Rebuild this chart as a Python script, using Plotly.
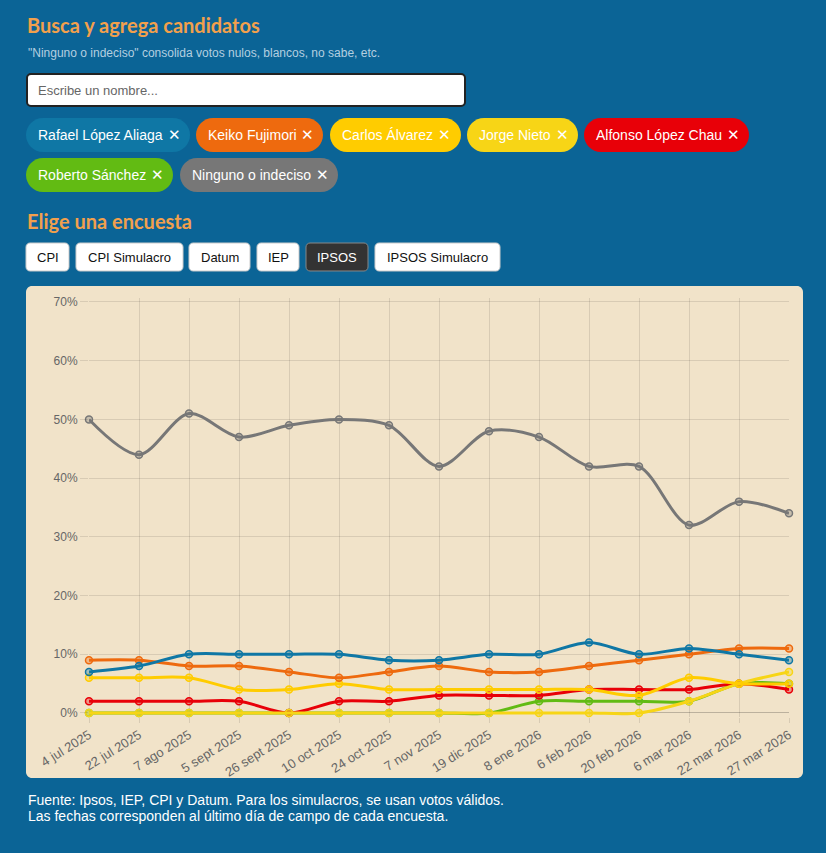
import plotly.graph_objects as go

# ---------------- data ----------------
fechas = ["4 jul 2025", "22 jul 2025", "7 ago 2025", "5 sept 2025", "26 sept 2025",
          "10 oct 2025", "24 oct 2025", "7 nov 2025", "19 dic 2025", "8 ene 2026",
          "6 feb 2026", "20 feb 2026", "6 mar 2026", "22 mar 2026", "27 mar 2026"]

rafael_lopez_aliaga = [7, 8, 10, 10, 10, 10, 9, 9, 10, 10, 12, 10, 11, 10, 9]
keiko_fujimori      = [9, 9, 8, 8, 7, 6, 7, 8, 7, 7, 8, 9, 10, 11, 11]
carlos_alvarez      = [6, 6, 6, 4, 4, 5, 4, 4, 4, 4, 4, 3, 6, 5, 5]
jorge_nieto         = [0, 0, 0, 0, 0, 0, 0, 0, 0, 0, 0, 0, 2, 5, 7]
alfonso_lopez_chau  = [2, 2, 2, 2, 0, 2, 2, 3, 3, 3, 4, 4, 4, 5, 4]
roberto_sanchez     = [0, 0, 0, 0, 0, 0, 0, 0, 0, 2, 2, 2, 2, 5, 5]
ninguno_indeciso    = [50, 44, 51, 47, 49, 50, 49, 42, 48, 47, 42, 42, 32, 36, 34]

candidatos = ["Rafael López Aliaga", "Keiko Fujimori", "Carlos Álvarez", "Jorge Nieto",
              "Alfonso López Chau", "Roberto Sánchez", "Ninguno o indeciso"]
series = [rafael_lopez_aliaga, keiko_fujimori, carlos_alvarez, jorge_nieto,
          alfonso_lopez_chau, roberto_sanchez, ninguno_indeciso]
colores = ["#0f77a5", "#ee6a0e", "#ffcc00", "#f7d516", "#e80008", "#62bb13", "#777777"]

encuestas = ["CPI", "CPI Simulacro", "Datum", "IEP", "IPSOS", "IPSOS Simulacro"]
encuesta_activa = "IPSOS"

y_ticks = [0, 10, 20, 30, 40, 50, 60, 70]
y_ticklabels = [f"{v}%" for v in y_ticks]

# ---------------- layout helpers ----------------
W, H = 826, 853
BG = "#0b6496"
PANEL = "#f1e3c9"
ORANGE_TITLE = "#f2a04c"


def px(x):
    return x / W


def py(y):
    return 1 - y / H


def rrect(x0, y0, x1, y1, r):
    k = 0.5523 * r
    pts = [
        ("M", [(x0 + r, y0)]),
        ("L", [(x1 - r, y0)]),
        ("C", [(x1 - r + k, y0), (x1, y0 + r - k), (x1, y0 + r)]),
        ("L", [(x1, y1 - r)]),
        ("C", [(x1, y1 - r + k), (x1 - r + k, y1), (x1 - r, y1)]),
        ("L", [(x0 + r, y1)]),
        ("C", [(x0 + r - k, y1), (x0, y1 - r + k), (x0, y1 - r)]),
        ("L", [(x0, y0 + r)]),
        ("C", [(x0, y0 + r - k), (x0 + r - k, y0), (x0 + r, y0)]),
    ]
    s = ""
    for cmd, ps in pts:
        s += cmd + " " + " ".join(f"{px(a):.6f},{py(b):.6f}" for a, b in ps) + " "
    return s + "Z"


def hex_rgba(h, a):
    h = h.lstrip("#")
    r, g, b = int(h[0:2], 16), int(h[2:4], 16), int(h[4:6], 16)
    return f"rgba({r},{g},{b},{a})"


shapes = []
annotations = []

# chart panel
shapes.append(dict(type="path", path=rrect(26, 286, 803, 778, 6), xref="paper", yref="paper",
                   fillcolor=PANEL, line=dict(width=0), layer="below"))

# titles / texts
SANS = "Liberation Sans, Arial, sans-serif"
annotations.append(dict(text="<b>Busca y agrega candidatos</b>", x=px(25), y=py(25), xref="paper", yref="paper",
                        xanchor="left", yanchor="middle", showarrow=False,
                        font=dict(family="Lato, sans-serif", size=20, color=ORANGE_TITLE)))
annotations.append(dict(text="\"Ninguno o indeciso\" consolida votos nulos, blancos, no sabe, etc.",
                        x=px(26), y=py(53), xref="paper", yref="paper", xanchor="left", yanchor="middle",
                        showarrow=False, font=dict(family=SANS, size=12, color="#b4cfe0")))

# input box
shapes.append(dict(type="path", path=rrect(27, 74, 465, 106, 4), xref="paper", yref="paper",
                   fillcolor="white", line=dict(color="#222222", width=2), layer="below"))
annotations.append(dict(text="Escribe un nombre...", x=px(36), y=py(90), xref="paper", yref="paper",
                        xanchor="left", yanchor="middle", showarrow=False,
                        font=dict(family=SANS, size=13, color="#666666")))

# chips (layout boxes: left, right, row-center)
chip_boxes = [(26, 190, 135), (196, 323, 135), (330, 461, 135), (467, 578, 135),
              (584, 749, 135), (26, 173, 175), (180, 338, 175)]
for name, col, (cx0, cx1, cy) in zip(candidatos, colores, chip_boxes):
    shapes.append(dict(type="path", path=rrect(cx0, cy - 17, cx1, cy + 17, 17), xref="paper", yref="paper",
                       fillcolor=col, line=dict(width=0), layer="below"))
    annotations.append(dict(text=name, x=px(cx0 + 10), y=py(cy), xref="paper", yref="paper",
                            xanchor="left", yanchor="middle", showarrow=False,
                            font=dict(family=SANS, size=14, color="white")))
    annotations.append(dict(text="<b>✕</b>", x=px(cx1 - 16), y=py(cy), xref="paper", yref="paper",
                            xanchor="center", yanchor="middle", showarrow=False,
                            font=dict(family="DejaVu Sans", size=15, color="white")))

annotations.append(dict(text="<b>Elige una encuesta</b>", x=px(25), y=py(221), xref="paper", yref="paper",
                        xanchor="left", yanchor="middle", showarrow=False,
                        font=dict(family="Lato, sans-serif", size=20, color=ORANGE_TITLE)))

# survey buttons (layout boxes)
button_boxes = [(26, 69), (76, 183), (189, 250), (257, 299), (306, 368), (375, 500)]
for name, (bx0, bx1) in zip(encuestas, button_boxes):
    active = name == encuesta_activa
    shapes.append(dict(type="path", path=rrect(bx0, 243, bx1, 271, 4), xref="paper", yref="paper",
                       fillcolor="#333333" if active else "white",
                       line=dict(color="#888888" if active else "#cccccc", width=1), layer="below"))
    annotations.append(dict(text=name, x=px((bx0 + bx1) / 2), y=py(257), xref="paper", yref="paper",
                            xanchor="center", yanchor="middle", showarrow=False,
                            font=dict(family=SANS, size=13, color="white" if active else "#111111")))

# footer
annotations.append(dict(text="Fuente: Ipsos, IEP, CPI y Datum. Para los simulacros, se usan votos válidos.",
                        x=px(26), y=py(800), xref="paper", yref="paper", xanchor="left", yanchor="middle",
                        showarrow=False, font=dict(family=SANS, size=14, color="white")))
annotations.append(dict(text="Las fechas corresponden al último día de campo de cada encuesta.",
                        x=px(26), y=py(816), xref="paper", yref="paper", xanchor="left", yanchor="middle",
                        showarrow=False, font=dict(family=SANS, size=14, color="white")))

# ---------------- traces ----------------
fig = go.Figure()
order = [6, 5, 4, 3, 2, 1, 0]  # first candidate drawn on top
for i in order:
    fig.add_trace(go.Scatter(
        x=fechas, y=series[i], name=candidatos[i], mode="lines+markers",
        line=dict(color=colores[i], width=3, shape="spline", smoothing=0.9),
        marker=dict(size=7, color=hex_rgba(colores[i], 0.35), line=dict(color=colores[i], width=1.5)),
        cliponaxis=False,
        hovertemplate="%{x}: %{y}%<extra>" + candidatos[i] + "</extra>",
    ))

# plot area geometry: 0% at y=713px, 70% at y=302px
unit = (713 - 302) / 70
pad = 0.6
y_bot = 713 + pad * unit
y_top = 302 - pad * unit

GRID = "rgba(0,0,0,0.1)"
fig.update_layout(
    width=W, height=H,
    margin=dict(l=0, r=0, t=0, b=0, autoexpand=False),
    paper_bgcolor=BG, plot_bgcolor="rgba(0,0,0,0)",
    showlegend=False,
    shapes=shapes, annotations=annotations,
    xaxis=dict(domain=[px(89), px(789)], type="category", categoryorder="array", categoryarray=fechas,
               range=[0, len(fechas) - 1], showgrid=True, gridcolor=GRID, gridwidth=1,
               ticks="outside", ticklen=5, tickcolor=GRID, tickangle=-32, automargin=False,
               tickfont=dict(family=SANS, size=13, color="#666666"), showline=False, zeroline=False,
               fixedrange=True),
    yaxis=dict(domain=[py(y_bot), py(y_top)], range=[-pad, 70 + pad], tickmode="array",
               tickvals=y_ticks, ticktext=y_ticklabels, automargin=False,
               showgrid=True, gridcolor=GRID, gridwidth=1, zeroline=True, zerolinecolor="rgba(0,0,0,0.22)",
               zerolinewidth=1, ticks="outside", ticklen=8, tickcolor=GRID,
               tickfont=dict(family=SANS, size=12, color="#666666"), showline=False, fixedrange=True),
)

fig.write_html("out.html")
